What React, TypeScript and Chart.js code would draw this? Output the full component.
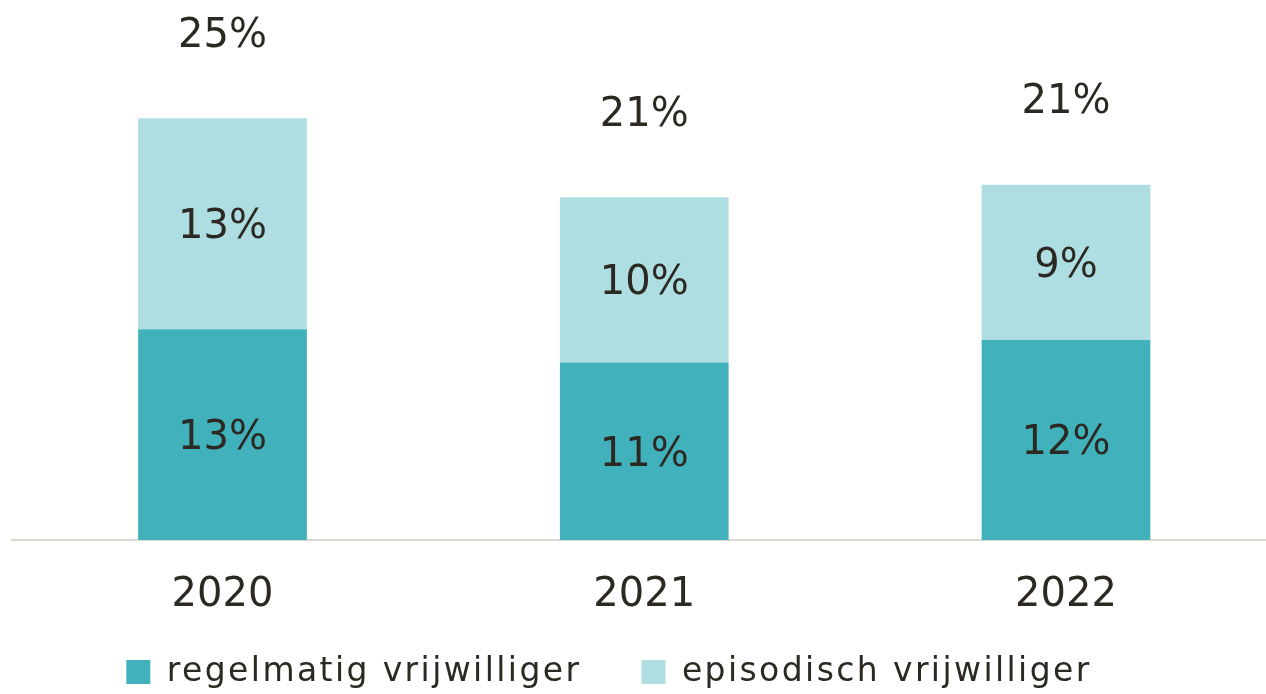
import React, { useEffect, useRef } from "react";
import { Chart, registerables } from "chart.js";

Chart.register(...registerables);

const categories = ["2020", "2021", "2022"];
const regelmatig = [12.7, 10.7, 12.05];
const episodisch = [12.7, 9.95, 9.35];
const seriesNames = ["regelmatig vrijwilliger", "episodisch vrijwilliger"];

const FONT = "'DejaVu Sans', sans-serif";
const TEXT = "#2b2922";
const LEGEND_SPACING = "2.4px";

const labelPlugin = {
  id: "valueLabels",
  beforeLayout(chart: any) {
    chart.ctx.letterSpacing = LEGEND_SPACING;
  },
  afterLayout(chart: any) {
    const ctx = chart.ctx;
    ctx.letterSpacing = "0px";
    const lg = chart.legend;
    if (lg) {
      lg.left -= 30;
      lg.right -= 30;
      lg.top -= 25.5;
      if (!lg._spacingPatched) {
        const orig = lg.draw.bind(lg);
        lg.draw = (...args: any[]) => {
          ctx.letterSpacing = LEGEND_SPACING;
          orig(...args);
          ctx.letterSpacing = "0px";
        };
        lg._spacingPatched = true;
      }
    }
  },
  afterDatasetsDraw(chart: any) {
    const ctx = chart.ctx;
    ctx.save();
    ctx.letterSpacing = "0px";
    ctx.fillStyle = TEXT;
    ctx.font = `40px ${FONT}`;
    ctx.textAlign = "center";
    ctx.textBaseline = "middle";
    chart.data.datasets.forEach((ds: any, di: number) => {
      const meta = chart.getDatasetMeta(di);
      meta.data.forEach((bar: any, i: number) => {
        const v = Math.round(ds.data[i]);
        ctx.fillText(`${v}%`, bar.x, (bar.y + bar.base) / 2 + 4);
      });
    });
    const lastMeta = chart.getDatasetMeta(chart.data.datasets.length - 1);
    lastMeta.data.forEach((bar: any, i: number) => {
      let total = 0;
      chart.data.datasets.forEach((ds: any) => (total += ds.data[i]));
      ctx.fillText(`${Math.round(total)}%`, bar.x, bar.y - 82);
    });
    ctx.restore();
  },
};

export default function App() {
  const ref = useRef<HTMLCanvasElement | null>(null);
  useEffect(() => {
    if (!ref.current) return;
    const chart = new Chart(ref.current, {
      type: "bar",
      data: {
        labels: categories,
        datasets: [
          {
            label: seriesNames[0],
            data: regelmatig,
            backgroundColor: "#41b1bc",
            barPercentage: 0.4,
            categoryPercentage: 1,
          },
          {
            label: seriesNames[1],
            data: episodisch,
            backgroundColor: "#aedee2",
            barPercentage: 0.4,
            categoryPercentage: 1,
          },
        ],
      },
      options: {
        animation: false,
        responsive: false,
        maintainAspectRatio: false,
        layout: { padding: { left: 12, right: 0, top: 0, bottom: 0 } },
        scales: {
          x: {
            type: "linear",
            stacked: true,
            offset: false,
            min: 2019.5009,
            max: 2022.4742,
            grid: { display: false, offset: false },
            border: { display: true, color: "#dcd9cf", width: 2 },
            afterBuildTicks: (s: any) => {
              s.ticks = categories.map((c) => ({ value: Number(c) }));
            },
            afterFit: (s: any) => {
              s.height = 81;
            },
            ticks: {
              color: TEXT,
              font: { family: FONT, size: 40 },
              padding: 23.5,
              autoSkip: false,
              maxRotation: 0,
              callback: (v: any) => String(v),
            },
          },
          y: {
            stacked: true,
            display: false,
            min: 0,
            max: 32.53,
          },
        },
        plugins: {
          legend: {
            position: "bottom",
            maxHeight: 73,
            labels: {
              color: TEXT,
              font: { family: FONT, size: 33 },
              boxWidth: 24,
              boxHeight: 24,
              padding: 60,
            },
          },
          tooltip: { enabled: false },
        },
      },
      plugins: [labelPlugin],
    });
    return () => chart.destroy();
  }, []);
  return (
    <div style={{ position: "fixed", left: 0, top: 0, width: 1266, height: 694, background: "#fff" }}>
      <canvas ref={ref} width={1266} height={694} style={{ width: 1266, height: 694 }} />
    </div>
  );
}
